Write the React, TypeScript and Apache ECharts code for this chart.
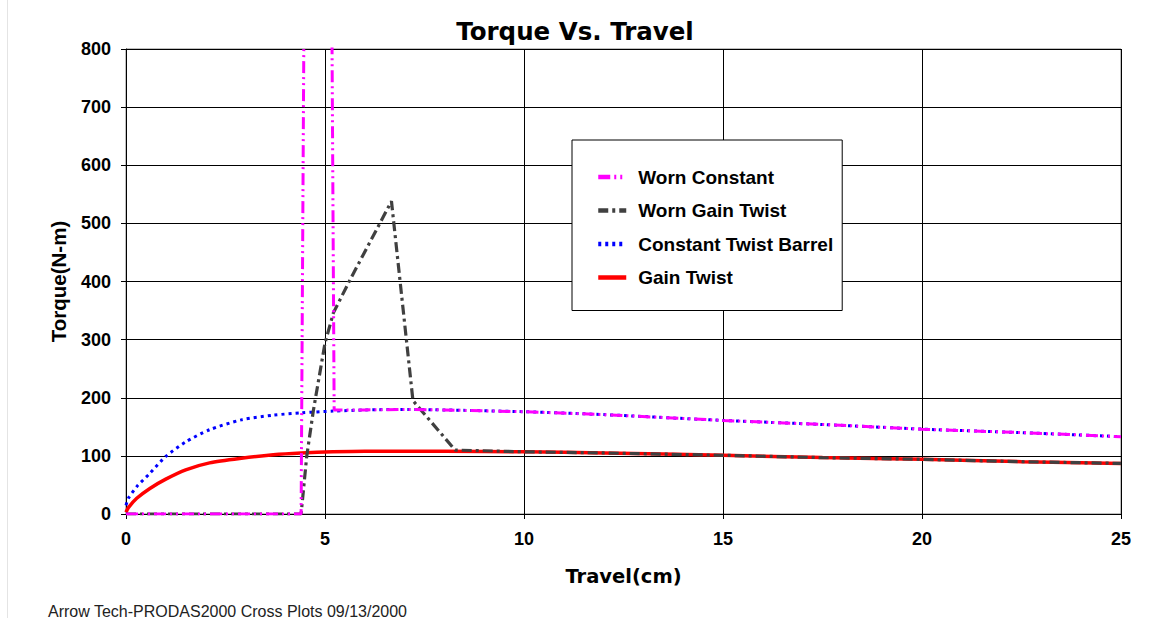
import { useEffect, useRef } from "react";
import * as echarts from "echarts";

// Travel (cm) / Torque (N-m) values
const gainTwistTravel = [0, 0.06, 0.27, 0.6, 1.0, 1.5, 2.1, 2.9, 3.7, 4.4, 5.2, 6, 7, 8, 10, 12, 15, 17.5, 20, 22.5, 25];
const gainTwistTorque = [3, 11, 27, 44, 60, 76, 88, 96, 102, 105, 107, 108, 108, 108, 107, 105, 101, 97, 94, 90, 87];

const constTwistTravel = [0, 0.06, 0.27, 0.6, 1.0, 1.5, 2.1, 2.9, 3.7, 4.4, 5.2, 6, 7, 8, 10, 12, 15, 17.5, 20, 22.5, 25];
const constTwistTorque = [15, 27, 47, 70, 99, 124, 145, 162, 170, 174, 177, 179, 180, 179, 176, 171, 161, 154, 146, 140, 133];

const wornGainTravel = [0, 4.4, 4.54, 4.71, 5.0, 5.21, 5.63, 6.67, 7.21, 8.27, 10, 12, 15, 17.5, 20, 22.5, 25];
const wornGainTorque = [0, 0, 99, 179, 294, 346, 403, 538, 195, 110, 107, 105, 101, 97, 94, 90, 87];

const wornConstTravel = [0, 4.4, 4.82, 5.23, 6, 7, 8, 10, 12, 15, 17.5, 20, 22.5, 25];
const wornConstTorque = [0, 0, 5000, 179, 179, 180, 179, 176, 171, 161, 154, 146, 140, 133];

const seriesNames = ["Worn Constant", "Worn Gain Twist", "Constant Twist Barrel", "Gain Twist"];

const titleText = "Torque Vs. Travel";
const xName = "Travel(cm)";
const yName = "Torque(N-m)";
const footerText = "Arrow Tech-PRODAS2000 Cross Plots 09/13/2000";

const pairs = (xs: number[], ys: number[]) => xs.map((x, i) => [x, ys[i]]);

export default function App() {
  const ref = useRef<HTMLDivElement>(null);
  useEffect(() => {
    if (!ref.current) return;
    const chart = echarts.init(ref.current, undefined, { renderer: "svg" });
    const arial = "'Liberation Sans', Arial, sans-serif";
    const wide = "'DejaVu Sans', sans-serif";
    chart.setOption({
      animation: false,
      backgroundColor: "#fff",
      title: {
        text: titleText,
        left: "center",
        top: 14,
        textStyle: { fontFamily: wide, fontWeight: "bold", fontSize: 24.5, color: "#000" },
      },
      grid: {
        left: 126,
        right: 29,
        top: 49,
        bottom: 104,
        show: true,
        borderColor: "#808080",
        borderWidth: 1,
        backgroundColor: "transparent",
      },
      legend: {
        data: seriesNames,
        orient: "vertical",
        left: 572,
        top: 140,
        padding: [27, 9, 23, 24],
        itemGap: 13.5,
        itemWidth: 28,
        itemHeight: 14,
        backgroundColor: "#fff",
        borderColor: "#000",
        borderWidth: 1,
        itemStyle: { opacity: 0, borderWidth: 0 },
        lineStyle: { width: 4.5 },
        textStyle: {
          fontFamily: arial,
          fontWeight: "bold",
          fontSize: 19,
          lineHeight: 20,
          color: "#000",
          padding: [0, 0, 0, 7],
        },
      },
      xAxis: {
        type: "value",
        min: 0,
        max: 25,
        interval: 5,
        name: xName,
        nameLocation: "middle",
        nameGap: 52,
        nameTextStyle: { fontFamily: wide, fontWeight: "bold", fontSize: 19.5, color: "#000" },
        axisLine: { show: true, onZero: false, lineStyle: { color: "#000", width: 1 } },
        axisTick: { show: true, length: 5, lineStyle: { color: "#000" } },
        axisLabel: { fontFamily: arial, fontWeight: "bold", fontSize: 18, color: "#000", margin: 16 },
        splitLine: { show: true, lineStyle: { color: "#000", width: 1 } },
      },
      yAxis: {
        type: "value",
        min: 0,
        max: 800,
        interval: 100,
        name: yName,
        nameLocation: "middle",
        nameGap: 57,
        nameTextStyle: { fontFamily: arial, fontWeight: "bold", fontSize: 20.5, color: "#000" },
        axisLine: { show: true, lineStyle: { color: "#000", width: 1 } },
        axisTick: { show: true, length: 5, lineStyle: { color: "#000" } },
        axisLabel: { fontFamily: arial, fontWeight: "bold", fontSize: 18, color: "#000", margin: 15 },
        splitLine: { show: true, lineStyle: { color: "#000", width: 1 } },
      },
      series: [
        {
          name: "Gain Twist",
          type: "line",
          data: pairs(gainTwistTravel, gainTwistTorque),
          showSymbol: false,
          symbol: "none",
          smooth: 0.25,
          color: "#FF0000",
          lineStyle: { color: "#FF0000", width: 3.5, type: "solid" },
          z: 2,
        },
        {
          name: "Constant Twist Barrel",
          type: "line",
          data: pairs(constTwistTravel, constTwistTorque),
          showSymbol: false,
          symbol: "none",
          smooth: 0.25,
          color: "#0000FF",
          lineStyle: { color: "#0000FF", width: 3, type: [3, 4] },
          z: 3,
        },
        {
          name: "Worn Gain Twist",
          type: "line",
          data: pairs(wornGainTravel, wornGainTorque),
          showSymbol: false,
          symbol: "none",
          color: "#404040",
          lineStyle: { color: "#404040", width: 3.2, type: [10, 4, 3, 4] },
          z: 4,
        },
        {
          name: "Worn Constant",
          type: "line",
          data: pairs(wornConstTravel, wornConstTorque),
          showSymbol: false,
          symbol: "none",
          color: "#FF00FF",
          lineStyle: { color: "#FF00FF", width: 3, type: [12, 4, 2, 4, 2, 4] },
          clip: true,
          z: 5,
        },
      ],
      graphic: [
        {
          type: "line",
          shape: { x1: 7.5, y1: 0, x2: 7.5, y2: 618 },
          style: { stroke: "#e4e4e4", lineWidth: 1 },
          silent: true,
        },
        {
          type: "text",
          left: 48,
          top: 603,
          style: {
            text: footerText,
            font: "16px 'Liberation Sans', Arial, sans-serif",
            fill: "#222",
          },
          silent: true,
        },
      ],
    });
    return () => chart.dispose();
  }, []);
  return (
    <div
      ref={ref}
      style={{ position: "fixed", left: 0, top: 0, width: 1150, height: 618 }}
    />
  );
}
